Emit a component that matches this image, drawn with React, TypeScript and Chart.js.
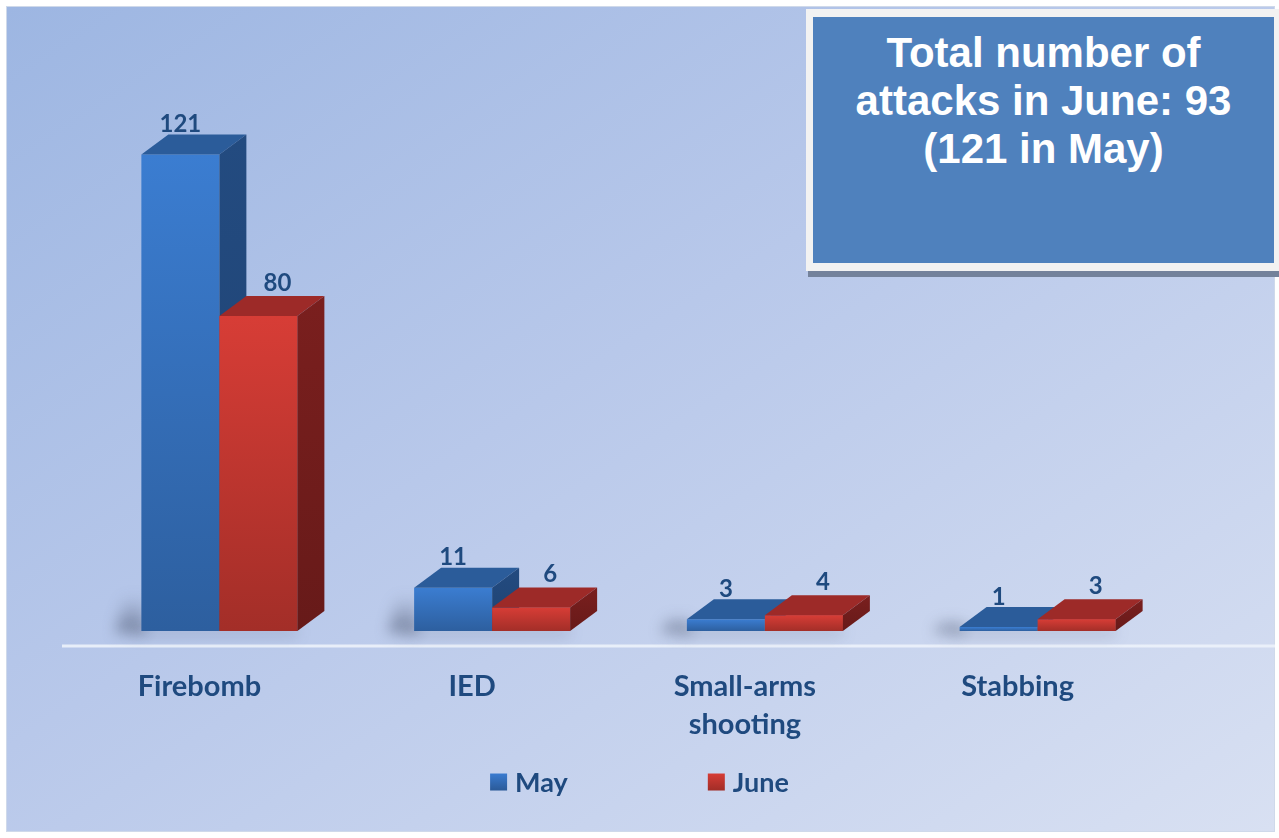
import React, { useEffect, useRef } from 'react';
import { Chart, registerables } from 'chart.js';

Chart.register(...registerables);

const categories: string[][] = [['Firebomb'], ['IED'], ['Small-arms', 'shooting'], ['Stabbing']];
const seriesNames = ['May', 'June'];
const mayValues = [121, 11, 3, 1];
const juneValues = [80, 6, 4, 3];
const titleLines = ['Total number of', 'attacks in June: 93', '(121 in May)'];

const DEPTH_X = 27;
const DEPTH_Y = 20;
const TEXT_BLUE = '#1f4a7f';

const palette = [
  { front: ['#3b7dd1', '#2d5f9f'], top: '#2b5c9a', side: '#234b80', legend: ['#3a7bd0', '#2b5a98'] },
  { front: ['#d73d36', '#a32e28'], top: '#9d2a28', side: '#7a1f1e', legend: ['#d63c35', '#a12d27'] },
];

function frontColor(di: number) {
  return (ctx: any) => {
    const chart = ctx.chart;
    const area = chart.chartArea;
    const y = chart.scales?.y;
    if (!area || !y || ctx.type !== 'data') return palette[di].front[0];
    const top = y.getPixelForValue(ctx.parsed.y);
    const bottom = y.getPixelForValue(0);
    const g = chart.ctx.createLinearGradient(0, top, 0, Math.max(bottom, top + 1));
    g.addColorStop(0, palette[di].front[0]);
    g.addColorStop(1, palette[di].front[1]);
    return g;
  };
}

function poly(ctx: CanvasRenderingContext2D, pts: number[][], fill: any) {
  ctx.beginPath();
  ctx.moveTo(pts[0][0], pts[0][1]);
  for (let i = 1; i < pts.length; i++) ctx.lineTo(pts[i][0], pts[i][1]);
  ctx.closePath();
  ctx.fillStyle = fill;
  ctx.fill();
}

const bar3dPlugin = {
  id: 'bar3d',
  beforeDatasetsDraw(chart: any) {
    const ctx: CanvasRenderingContext2D = chart.ctx;
    const area = chart.chartArea;
    // floor line
    ctx.save();
    ctx.strokeStyle = 'rgba(236,242,251,0.9)';
    ctx.lineWidth = 3;
    ctx.beginPath();
    ctx.moveTo(area.left - 21, area.bottom + 15);
    ctx.lineTo(chart.width - 4, area.bottom + 15);
    ctx.stroke();
    ctx.restore();
    // soft shadows at the foot of each group
    const meta0 = chart.getDatasetMeta(0);
    const meta1 = chart.getDatasetMeta(1);
    meta0.data.forEach((bar: any, i: number) => {
      const p = bar.getProps(['x', 'y', 'base', 'width'], true);
      const p1 = meta1.data[i].getProps(['x', 'y', 'base', 'width'], true);
      const l = p.x - p.width / 2;
      const r = p1.x + p1.width / 2;
      const h = Math.min(p.base - Math.min(p.y, p1.y), 36);
      ctx.save();
      ctx.filter = 'blur(7px)';
      const g = ctx.createLinearGradient(0, p.base - h, 0, p.base);
      g.addColorStop(0, 'rgba(60,70,95,0)');
      g.addColorStop(1, 'rgba(60,70,95,0.5)');
      poly(ctx, [[l - 18, p.base - h], [l + 4, p.base - h], [l + 4, p.base + 2], [l - 26, p.base + 2]], g);
      poly(ctx, [[l - 10, p.base - 1], [r, p.base - 1], [r, p.base + 4], [l - 10, p.base + 4]], 'rgba(60,70,95,0.3)');
      ctx.restore();
    });
  },
  afterDatasetsDraw(chart: any) {
    const ctx: CanvasRenderingContext2D = chart.ctx;
    chart.data.datasets.forEach((_ds: any, di: number) => {
      const meta = chart.getDatasetMeta(di);
      meta.data.forEach((bar: any) => {
        const { x, y, base, width } = bar.getProps(['x', 'y', 'base', 'width'], true);
        const l = x - width / 2;
        const r = x + width / 2;
        if (di > 0) bar.draw(ctx);
        ctx.save();
        poly(ctx, [[l, y], [l + DEPTH_X, y - DEPTH_Y], [r + DEPTH_X, y - DEPTH_Y], [r, y]], palette[di].top);
        const sg = ctx.createLinearGradient(0, y - DEPTH_Y, 0, base);
        sg.addColorStop(0, palette[di].side);
        sg.addColorStop(1, di === 0 ? '#1f4272' : '#671a19');
        poly(ctx, [[r, y], [r + DEPTH_X, y - DEPTH_Y], [r + DEPTH_X, base - DEPTH_Y], [r, base]], sg);
        ctx.restore();
      });
    });
    // value labels
    ctx.save();
    ctx.font = 'bold 24px Lato';
    ctx.fillStyle = TEXT_BLUE;
    ctx.textAlign = 'center';
    ctx.textBaseline = 'bottom';
    chart.data.datasets.forEach((ds: any, di: number) => {
      const meta = chart.getDatasetMeta(di);
      meta.data.forEach((bar: any, i: number) => {
        const { x, y } = bar.getProps(['x', 'y'], true);
        const dx = di === 1 ? 19 : 0;
        ctx.fillText(String(ds.data[i]), x + dx, y - DEPTH_Y + 2 - (di === 1 ? 3 : 0));
      });
    });
    ctx.restore();
  },
  afterDraw(chart: any) {
    // legend
    const ctx: CanvasRenderingContext2D = chart.ctx;
    ctx.save();
    ctx.font = 'bold 27px Lato';
    ctx.textBaseline = 'middle';
    ctx.textAlign = 'left';
    const box = 17;
    const gap = 8;
    const spacing = 140;
    const items = chart.data.datasets.map((d: any) => d.label as string);
    const widths = items.map((t: string) => box + gap + ctx.measureText(t).width);
    const total = widths.reduce((a: number, b: number) => a + b, 0) + spacing * (items.length - 1);
    let cx = chart.width / 2 - total / 2;
    const cy = chart.chartArea.bottom + 151;
    items.forEach((t: string, i: number) => {
      const g = ctx.createLinearGradient(0, cy - box / 2, 0, cy + box / 2);
      g.addColorStop(0, palette[i].legend[0]);
      g.addColorStop(1, palette[i].legend[1]);
      ctx.fillStyle = g;
      ctx.fillRect(cx, cy - box / 2, box, box);
      ctx.fillStyle = TEXT_BLUE;
      ctx.fillText(t, cx + box + gap, cy + 1);
      cx += widths[i] + spacing;
    });
    ctx.restore();
  },
};

export default function App() {
  const canvasRef = useRef<HTMLCanvasElement | null>(null);

  useEffect(() => {
    document.body.style.margin = '0';
    const canvas = canvasRef.current;
    if (!canvas) return;
    const chart = new Chart(canvas, {
      type: 'bar',
      data: {
        labels: categories,
        datasets: [
          { label: seriesNames[0], data: mayValues, backgroundColor: frontColor(0), borderWidth: 0 },
          { label: seriesNames[1], data: juneValues, backgroundColor: frontColor(1), borderWidth: 0 },
        ],
      },
      options: {
        responsive: false,
        animation: false,
        devicePixelRatio: 1,
        layout: { padding: { left: 83, right: 105, top: 119, bottom: 57 } },
        datasets: { bar: { categoryPercentage: 0.572, barPercentage: 1 } },
        plugins: {
          legend: { display: false },
          tooltip: { enabled: false },
        },
        scales: {
          x: {
            grid: { display: false, drawTicks: false },
            border: { display: false },
            ticks: {
              padding: 37,
              labelOffset: -20,
              color: TEXT_BLUE,
              maxRotation: 0,
              autoSkip: false,
              font: { family: 'Lato', size: 29, weight: 'bold', lineHeight: 1.31 },
            },
          },
          y: { display: false, min: 0, max: 130 },
        },
      },
      plugins: [bar3dPlugin],
    } as any);
    return () => chart.destroy();
  }, []);

  return (
    <div style={{ position: 'fixed', left: 0, top: 0, width: 1279, height: 838, background: '#ffffff', overflow: 'hidden' }}>
      <div
        style={{
          position: 'absolute',
          left: 6,
          top: 6,
          width: 1267,
          height: 824,
          border: '1px solid #cfd9ea',
          background: 'linear-gradient(to bottom right, #9db6e2 0%, #b8c8ea 45%, #d8e0f2 100%)',
        }}
      />
      <canvas ref={canvasRef} width={1279} height={838} style={{ position: 'absolute', left: 0, top: 0, width: 1279, height: 838 }} />
      <div
        style={{
          position: 'absolute',
          left: 806,
          top: 9,
          width: 473,
          height: 262,
          background: '#f2f2f2',
          boxShadow: '2px 6px 0 #74829b',
        }}
      >
        <div
          style={{
            position: 'absolute',
            left: 7,
            top: 8,
            width: 461,
            height: 246,
            boxSizing: 'border-box',
            paddingTop: 12,
            background: '#4f81bd',
            color: '#ffffff',
            fontFamily: '"Liberation Sans", Arial, sans-serif',
            fontWeight: 'bold',
            fontSize: 42,
            lineHeight: '48px',
            textAlign: 'center',
          }}
        >
          {titleLines.map((t) => (
            <div key={t}>{t}</div>
          ))}
        </div>
      </div>
    </div>
  );
}
